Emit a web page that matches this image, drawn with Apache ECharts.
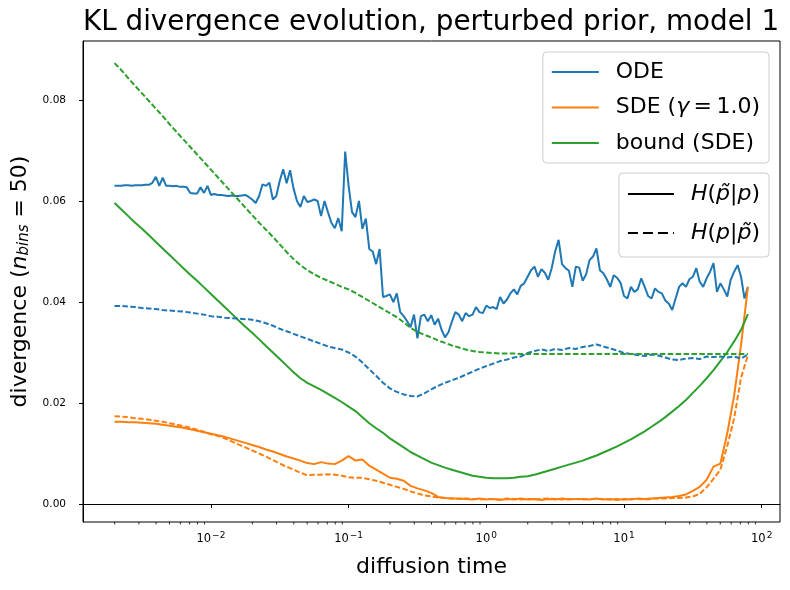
<!DOCTYPE html>
<html>
<head>
<meta charset="utf-8">
<script src="https://cdn.jsdelivr.net/npm/echarts@6/dist/echarts.min.js"></script>
<style>
  html, body { margin: 0; padding: 0; background: #fff; }
  #chart { width: 790px; height: 590px; }
</style>
</head>
<body>
<div id="chart"></div>
<script>
// diffusion times (log spaced, 0.002 .. 80)
const times = [
  0.001995, 0.002239, 0.002512, 0.002818, 0.003162, 0.003548, 0.003981, 0.004467, 0.005012, 0.005623,
  0.00631, 0.007079, 0.007943, 0.008913, 0.01, 0.01122, 0.01259, 0.01413, 0.01585, 0.01778,
  0.01995, 0.02239, 0.02512, 0.02818, 0.03162, 0.03548, 0.03981, 0.04467, 0.05012, 0.05623,
  0.0631, 0.07079, 0.07943, 0.08913, 0.1, 0.1122, 0.1259, 0.1413, 0.1585, 0.1778,
  0.1995, 0.2239, 0.2512, 0.2818, 0.3162, 0.3548, 0.3981, 0.4467, 0.5012, 0.5623,
  0.631, 0.7079, 0.7943, 0.8913, 1, 1.122, 1.259, 1.413, 1.585, 1.778,
  1.995, 2.239, 2.512, 2.818, 3.162, 3.548, 3.981, 4.467, 5.012, 5.623,
  6.31, 7.079, 7.943, 8.913, 10, 11.22, 12.59, 14.13, 15.85, 17.78,
  19.95, 22.39, 25.12, 28.18, 31.62, 35.48, 39.81, 44.67, 50.12, 56.23,
  63.1, 70.79, 79.43
];

// finer time grid for the noisy ODE curve
const timesFine = [
  0.001995, 0.002113, 0.002239, 0.002371, 0.002512, 0.002661, 0.002818, 0.002985, 0.003162, 0.00335,
  0.003548, 0.003758, 0.003981, 0.004217, 0.004467, 0.004732, 0.005012, 0.005309, 0.005623, 0.005957,
  0.00631, 0.006683, 0.007079, 0.007499, 0.007943, 0.008414, 0.008913, 0.009441,
  0.01, 0.01059, 0.01122, 0.01189, 0.01259, 0.01334, 0.01413, 0.01496, 0.01585, 0.01679,
  0.01778, 0.01884, 0.01995, 0.02113, 0.02239, 0.02371, 0.02512, 0.02661, 0.02818, 0.02985,
  0.03162, 0.0335, 0.03548, 0.03758, 0.03981, 0.04217, 0.04467, 0.04732, 0.05012, 0.05309,
  0.05623, 0.05957, 0.0631, 0.06683, 0.07079, 0.07499, 0.07943, 0.08414, 0.08913, 0.09441,
  0.1, 0.1059, 0.1122, 0.1189, 0.1259, 0.1334, 0.1413, 0.1496, 0.1585, 0.1679,
  0.1778, 0.1884, 0.1995, 0.2113, 0.2239, 0.2371, 0.2512, 0.2661, 0.2818, 0.2985,
  0.3162, 0.335, 0.3548, 0.3758, 0.3981, 0.4217, 0.4467, 0.4732, 0.5012, 0.5309,
  0.5623, 0.5957, 0.631, 0.6683, 0.7079, 0.7499, 0.7943, 0.8414, 0.8913, 0.9441,
  1, 1.059, 1.122, 1.189, 1.259, 1.334, 1.413, 1.496, 1.585, 1.679,
  1.778, 1.884, 1.995, 2.113, 2.239, 2.371, 2.512, 2.661, 2.818, 2.985,
  3.162, 3.35, 3.548, 3.758, 3.981, 4.217, 4.467, 4.732, 5.012, 5.309,
  5.623, 5.957, 6.31, 6.683, 7.079, 7.499, 7.943, 8.414, 8.913, 9.441,
  10, 10.59, 11.22, 11.89, 12.59, 13.34, 14.13, 14.96, 15.85, 16.79,
  17.78, 18.84, 19.95, 21.13, 22.39, 23.71, 25.12, 26.61, 28.18, 29.85,
  31.62, 33.5, 35.48, 37.58, 39.81, 42.17, 44.67, 47.32, 50.12, 53.09,
  56.23, 59.57, 63.1, 66.83, 70.79, 74.99, 79.43
];

// ODE, H(p~|p)  (solid, on timesFine)
const odeFwd = [
  .0630, .0630, .0630, .0631, .0631, .0630, .0631, .0631, .0631, .0632,
  .0632, .0636, .0648, .0630, .0646, .0630, .0630, .0629, .0630, .0628,
  .0628, .0627, .0616, .0615, .0615, .0627, .0616, .0630,
  .0612, .0614, .0612, .0612, .0611, .0610, .0611, .0610, .0610, .0611,
  .0612, .0608, .0603, .0596, .0610, .0633, .0630, .0636, .0603, .0610,
  .0640, .0663, .0635, .0661, .0625, .0600, .0588, .0610, .0598, .0600,
  .0603, .0600, .0570, .0600, .0578, .0557, .0546, .0566, .0540, .0698,
  .0630, .0578, .0568, .0600, .0545, .0565, .0505, .0500, .0475, .0505,
  .0410, .0412, .0415, .0400, .0417, .0380, .0372, .0362, .0350, .0375,
  .0328, .0372, .0375, .0362, .0374, .0355, .0367, .0345, .0330, .0340,
  .0361, .0380, .0375, .0362, .0378, .0372, .0375, .0390, .0380, .0378,
  .0393, .0388, .0390, .0386, .0410, .0397, .0405, .0417, .0425, .0415,
  .0432, .0437, .0450, .0463, .0470, .0450, .0465, .0458, .0444, .0467,
  .0500, .0523, .0475, .0467, .0462, .0430, .0470, .0468, .0442, .0455,
  .0483, .0490, .0506, .0463, .0457, .0445, .0430, .0453, .0448, .0438,
  .0412, .0407, .0430, .0420, .0425, .0447, .0430, .0412, .0407, .0427,
  .0420, .0417, .0403, .0397, .0384, .0407, .0430, .0437, .0430, .0445,
  .0450, .0467, .0440, .0430, .0447, .0460, .0477, .0420, .0437, .0425,
  .0411, .0444, .0460, .0473, .0450, .0407, .0430
];
// ODE, H(p|p~)  (dashed)
const odeRev = [
  .0392, .0392, .0391, .0390, .0388, .0387, .0386, .0384, .0383, .0382,
  .0381, .0379, .0377, .0375, .0372, .0371, .0369, .0368, .0367, .0366,
  .0365, .0362, .0358, .0353, .0347, .0342, .0337, .0332, .0327, .0322,
  .0317, .0312, .0309, .0306, .0300, .0292, .0280, .0267, .0254, .0240,
  .0229, .0222, .0217, .0214, .0213, .0219, .0227, .0234, .0240, .0245,
  .0250, .0256, .0262, .0268, .0273, .0278, .0283, .0286, .0290, .0292,
  .0299, .0303, .0306, .0303, .0307, .0305, .0309, .0307, .0311, .0313,
  .0316, .0312, .0308, .0304, .0299, .0297, .0295, .0293, .0296, .0294,
  .0290, .0286, .0285, .0288, .0289, .0287, .0292, .0291, .0292, .0290,
  .0292, .0288, .0296
];
// SDE (gamma = 1.0), H(p~|p)
const sdeFwd = [
  .0163, .0163, .0162, .0162, .0161, .0160, .0159, .0157, .0155, .0153,
  .0151, .0148, .0145, .0142, .0139, .0136, .0133, .0129, .0125, .0121,
  .0117, .0113, .0108, .0104, .0099, .0094, .0090, .0086, .0081, .0079,
  .0083, .0080, .0079, .0086, .0095, .0086, .0088, .0076, .0068, .0060,
  .0052, .0050, .0046, .0036, .0031, .0027, .0022, .0014, .0012, .0011,
  .0011, .0010, .0009, .0011, .0009, .0010, .0008, .0010, .0009, .0011,
  .0009, .0010, .0008, .0010, .0009, .0011, .0009, .0010, .0010, .0009,
  .0011, .0009, .0010, .0008, .0010, .0009, .0011, .0010, .0011, .0012,
  .0013, .0014, .0016, .0019, .0026, .0034, .0048, .0074, .0080, .0140,
  .0215, .0315, .0430
];
// SDE (gamma = 1.0), H(p|p~)
const sdeRev = [
  .0174, .0173, .0172, .0170, .0169, .0167, .0165, .0163, .0160, .0157,
  .0154, .0151, .0147, .0143, .0138, .0135, .0130, .0124, .0118, .0112,
  .0106, .0100, .0094, .0087, .0080, .0074, .0068, .0062, .0057, .0058,
  .0058, .0059, .0058, .0056, .0053, .0052, .0052, .0049, .0046, .0042,
  .0038, .0034, .0030, .0025, .0021, .0017, .0015, .0013, .0012, .0011,
  .0010, .0011, .0010, .0009, .0010, .0010, .0009, .0011, .0010, .0009,
  .0010, .0009, .0010, .0011, .0010, .0009, .0010, .0010, .0009, .0010,
  .0010, .0010, .0009, .0010, .0009, .0010, .0010, .0009, .0010, .0011,
  .0011, .0012, .0012, .0013, .0015, .0020, .0033, .0050, .0068, .0115,
  .0170, .0250, .0295
];
// bound (SDE), H(p~|p)
const boundFwd = [
  .0596, .0583, .0570, .0557, .0545, .0532, .0519, .0506, .0493, .0480,
  .0467, .0454, .0442, .0429, .0416, .0403, .0390, .0377, .0364, .0351,
  .0339, .0326, .0313, .0300, .0287, .0274, .0261, .0249, .0240, .0233,
  .0226, .0218, .0210, .0202, .0193, .0184, .0172, .0160, .0150, .0141,
  .0130, .0121, .0112, .0103, .0096, .0089, .0082, .0077, .0072, .0068,
  .0064, .0060, .0056, .0054, .0052, .0051, .0051, .0051, .0052, .0054,
  .0055, .0058, .0062, .0066, .0070, .0074, .0078, .0082, .0086, .0091,
  .0096, .0102, .0108, .0114, .0121, .0128, .0136, .0144, .0153, .0162,
  .0172, .0183, .0194, .0206, .0220, .0234, .0249, .0265, .0283, .0301,
  .0322, .0345, .0376
];
// bound (SDE), H(p|p~)
const boundRev = [
  .0873, .0859, .0843, .0828, .0813, .0798, .0783, .0768, .0752, .0737,
  .0722, .0707, .0692, .0677, .0662, .0647, .0632, .0617, .0602, .0587,
  .0572, .0557, .0543, .0529, .0514, .0499, .0485, .0473, .0463, .0455,
  .0448, .0442, .0436, .0430, .0425, .0418, .0410, .0402, .0394, .0386,
  .0378, .0370, .0360, .0349, .0341, .0335, .0330, .0324, .0319, .0314,
  .0310, .0306, .0303, .0301, .0300, .0299, .0298, .0298, .0298, .0297,
  .0297, .0297, .0297, .0297, .0297, .0297, .0297, .0297, .0297, .0297,
  .0297, .0297, .0297, .0297, .0297, .0297, .0297, .0297, .0297, .0297,
  .0297, .0297, .0297, .0297, .0297, .0297, .0297, .0297, .0297, .0297,
  .0297, .0297, .0297
];

// minor ticks of the log x axis
const xMinorTicks = [
  0.002, 0.003, 0.004, 0.005, 0.006, 0.007, 0.008, 0.009,
  0.02, 0.03, 0.04, 0.05, 0.06, 0.07, 0.08, 0.09,
  0.2, 0.3, 0.4, 0.5, 0.6, 0.7, 0.8, 0.9,
  2, 3, 4, 5, 6, 7, 8, 9,
  20, 30, 40, 50, 60, 70, 80, 90
];

const FONT = 'DejaVu Sans';
const BLUE = '#1f77b4', ORANGE = '#ff7f0e', GREEN = '#2ca02c';
const DASH = [5.5, 2.4];
const X_MIN = 0.001178, X_MAX = 135.8;
const Y_MIN = -0.00356, Y_MAX = 0.09168;

const NAME_ODE = 'ODE';
const NAME_SDE = 'SDE (\u03b3 = 1.0)';
const NAME_BOUND = 'bound (SDE)';
const NAME_FWD = 'H(p\u0303|p)';
const NAME_REV = 'H(p|p\u0303)';

const pairs = (ts, vals) => ts.map((t, i) => [t, vals[i]]);

function lineSeries(name, ts, vals, color, dashed) {
  return {
    name: name,
    type: 'line',
    data: pairs(ts, vals),
    color: color,
    symbol: 'none',
    showSymbol: false,
    silent: true,
    lineStyle: { color: color, width: 2, type: dashed ? DASH : 'solid' },
    itemStyle: { color: color }
  };
}

const legendRich = {
  i: { fontFamily: FONT, fontSize: 22, fontStyle: 'italic', color: '#000' }
};

const chart = echarts.init(document.getElementById('chart'), null, { renderer: 'canvas' });

chart.setOption({
  animation: false,
  backgroundColor: '#fff',
  title: {
    text: 'KL divergence evolution, perturbed prior, model 1',
    left: 431,
    top: 9,
    padding: 0,
    textAlign: 'center',
    textStyle: { fontFamily: FONT, fontSize: 27.8, fontWeight: 'normal', color: '#000' }
  },
  grid: {
    left: 83, top: 41, width: 697, height: 481,
    outerBoundsMode: 'none',
    show: true, borderColor: '#000', borderWidth: 1, backgroundColor: 'transparent'
  },
  legend: [
    {
      data: [NAME_ODE, NAME_SDE, NAME_BOUND],
      orient: 'vertical',
      right: 21, top: 52,
      itemWidth: 47, itemHeight: 14, itemGap: 9.5,
      padding: [7, 9, 7, 8],
      backgroundColor: 'rgba(255,255,255,0.8)',
      borderColor: '#cccccc', borderWidth: 1, borderRadius: 4,
      selectedMode: false,
      itemStyle: { opacity: 0 },
      textStyle: {
        fontFamily: FONT, fontSize: 22, color: '#000', lineHeight: 26,
        padding: [0, 0, 0, 12],
        rich: legendRich
      },
      formatter: name => name === NAME_SDE ? 'SDE ({i|\u03b3}\u2009=\u20091.0)' : name
    },
    {
      data: [NAME_FWD, NAME_REV],
      orient: 'vertical',
      right: 21, top: 173,
      itemWidth: 46, itemHeight: 14, itemGap: 9,
      padding: [6, 9, 9, 8],
      backgroundColor: 'rgba(255,255,255,0.8)',
      borderColor: '#cccccc', borderWidth: 1, borderRadius: 4,
      selectedMode: false,
      itemStyle: { opacity: 0 },
      textStyle: {
        fontFamily: FONT, fontSize: 22, color: '#000', lineHeight: 30,
        padding: [0, 0, 0, 12],
        rich: legendRich
      },
      formatter: name => name === NAME_FWD
        ? '{i|H}({i|p\u0303}|{i|p})'
        : '{i|H}({i|p}|{i|p\u0303})'
    }
  ],
  xAxis: {
    type: 'log',
    logBase: 10,
    min: X_MIN,
    max: X_MAX,
    splitLine: { show: false },
    axisLine: { show: true, lineStyle: { color: '#000', width: 1 } },
    axisTick: { show: true, length: 4, lineStyle: { color: '#000', width: 1 } },
    axisLabel: {
      color: '#000',
      margin: 9,
      showMinLabel: false,
      showMaxLabel: false,
      formatter: v => {
        const l = Math.log10(v);
        const n = Math.round(l);
        if (Math.abs(l - n) > 1e-6) return '';
        return '{b|10}{s|' + (n < 0 ? '\u2212' : '') + Math.abs(n) + '}';
      },
      rich: {
        b: { fontFamily: FONT, fontSize: 11.5, color: '#000' },
        s: { fontFamily: FONT, fontSize: 9, color: '#000', padding: [0, 0, 8, 1] }
      }
    },
    name: 'diffusion time',
    nameLocation: 'middle',
    nameGap: 34,
    nameTextStyle: { fontFamily: FONT, fontSize: 22, color: '#000' }
  },
  yAxis: {
    type: 'value',
    min: Y_MIN,
    max: Y_MAX,
    splitNumber: 5,
    splitLine: { show: false },
    axisLine: { show: true, lineStyle: { color: '#000', width: 1 } },
    axisTick: { show: true, length: 4, lineStyle: { color: '#000', width: 1 } },
    axisLabel: {
      color: '#000',
      fontFamily: FONT,
      fontSize: 10.5,
      margin: 17,
      showMinLabel: false,
      showMaxLabel: false,
      formatter: v => {
        const q = v / 0.02;
        return Math.abs(q - Math.round(q)) < 1e-6 ? v.toFixed(2) : '';
      }
    },
    name: 'divergence ({i|n}{sub|bins} = 50)',
    nameLocation: 'middle',
    nameRotate: 90,
    nameGap: 50,
    nameTextStyle: {
      fontFamily: FONT, fontSize: 22, color: '#000',
      rich: {
        i: { fontFamily: FONT, fontSize: 22, fontStyle: 'italic', color: '#000' },
        sub: { fontFamily: FONT, fontSize: 15, fontStyle: 'italic', color: '#000', padding: [8, 0, 0, 0] }
      }
    }
  },
  series: [
    lineSeries(NAME_ODE, timesFine, odeFwd, BLUE, false),
    lineSeries(NAME_SDE, times, sdeFwd, ORANGE, false),
    lineSeries(NAME_BOUND, times, boundFwd, GREEN, false),
    lineSeries(NAME_ODE, times, odeRev, BLUE, true),
    lineSeries(NAME_SDE, times, sdeRev, ORANGE, true),
    lineSeries(NAME_BOUND, times, boundRev, GREEN, true),
    // legend-only entries for the line styles
    {
      name: NAME_FWD, type: 'line', data: [], color: '#000', symbol: 'none',
      lineStyle: { color: '#000', width: 2.5, type: 'solid' }, itemStyle: { color: '#000' }
    },
    {
      name: NAME_REV, type: 'line', data: [], color: '#000', symbol: 'none',
      lineStyle: { color: '#000', width: 2.5, type: [10, 5] }, itemStyle: { color: '#000' }
    },
    // minor ticks along the log axis
    {
      type: 'custom',
      silent: true,
      clip: false,
      data: xMinorTicks.map(v => [v, Y_MIN]),
      renderItem: (params, api) => {
        const p = api.coord([api.value(0), api.value(1)]);
        return {
          type: 'line',
          shape: { x1: p[0], y1: p[1], x2: p[0], y2: p[1] + 2.5 },
          style: { stroke: '#000', lineWidth: 0.8 }
        };
      }
    }
  ]
});
</script>
</body>
</html>
